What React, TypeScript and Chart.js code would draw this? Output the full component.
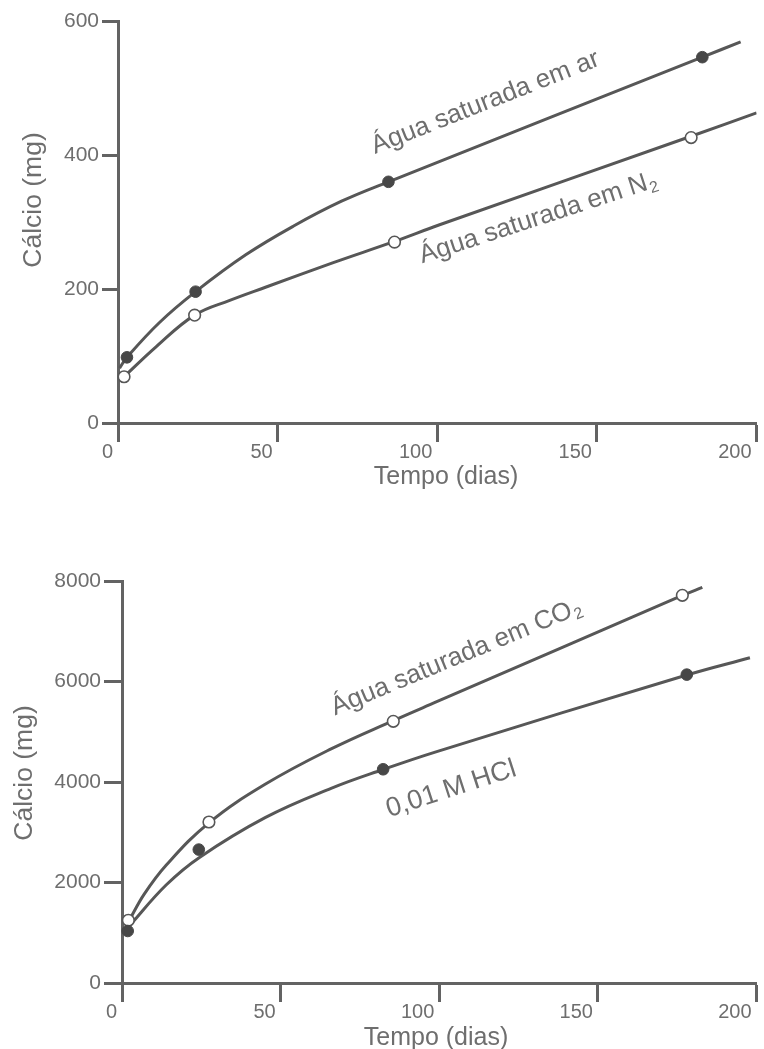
import React, { useEffect, useRef } from 'react';
import { Chart, registerables } from 'chart.js';

Chart.register(...registerables);

const FONT = '"Liberation Sans", Arial, Helvetica, sans-serif';
const INK = '#6e6e6e';
const AXIS = '#636363';
const CURVE = '#575757';
const DOT = '#474747';

// Shared time axis (days)
const dayTicks = [0, 50, 100, 150, 200];

// Upper panel: calcium (mg) dissolved in air- and N2-saturated water
const upperCalciumTicks = [0, 200, 400, 600];
const airDays = [2.8, 24.3, 84.7, 183];
const airCalcium = [98, 196, 360, 546];
const nitrogenDays = [1.9, 24, 86.6, 179.5];
const nitrogenCalcium = [69, 161, 270, 426];
const airCurveDays = [0.5, 2.8, 13, 24.3, 40, 55, 70, 84.7, 183, 195];
const airCurveCalcium = [82, 98, 150, 196, 251, 294, 331, 360, 546, 569];
const nitrogenCurveDays = [0.8, 12, 24, 35, 46.4, 67.2, 86.6, 100.5, 179.5, 200];
const nitrogenCurveCalcium = [64, 114, 161, 183, 203, 239, 271, 295.5, 428, 463];

// Lower panel: calcium (mg) dissolved in CO2-saturated water and 0.01 M HCl
const lowerCalciumTicks = [0, 2000, 4000, 6000, 8000];
const co2Days = [2, 27.4, 85.5, 176.6];
const co2Calcium = [1248, 3204, 5208, 7715];
const hclDays = [1.8, 24.2, 82.3, 178];
const hclCalcium = [1035, 2655, 4253, 6137];
const co2CurveDays = [2.3, 7, 13.9, 27.4, 45.1, 65.9, 85.5, 99.2, 176.6, 182.9];
const co2CurveCalcium = [1248, 1769, 2344, 3188, 3954, 4659, 5222, 5598, 7712, 7873];
const hclCurveDays = [2.5, 13.9, 24.3, 45.1, 65.9, 82.3, 99.2, 178, 197.9];
const hclCurveCalcium = [1149, 1950, 2494, 3290, 3873, 4249, 4605, 6129, 6472];

type Note = { text: string; sub?: string; day: number; mg: number; angle: number; size: number };
type Caption = { text: string; x: number; y: number; angle: number; size: number };

const pairs = (xs: number[], ys: number[]) => xs.map((x, i) => ({ x, y: ys[i] }));

function drawLabel(
  ctx: CanvasRenderingContext2D,
  x: number,
  y: number,
  angle: number,
  text: string,
  size: number,
  sub?: string
) {
  ctx.save();
  ctx.translate(x, y);
  ctx.rotate((angle * Math.PI) / 180);
  const mainFont = `${size}px ${FONT}`;
  const subFont = `${Math.round(size * 0.62)}px ${FONT}`;
  ctx.font = mainFont;
  const w1 = ctx.measureText(text).width;
  let w2 = 0;
  if (sub) {
    ctx.font = subFont;
    w2 = ctx.measureText(sub).width + 1;
  }
  const start = -(w1 + w2) / 2;
  const base = size * 0.36;
  ctx.fillStyle = INK;
  ctx.textAlign = 'left';
  ctx.textBaseline = 'alphabetic';
  ctx.font = mainFont;
  ctx.fillText(text, start, base);
  if (sub) {
    ctx.font = subFont;
    ctx.fillText(sub, start + w1 + 1, base + size * 0.16);
  }
  ctx.restore();
}

type PanelProps = {
  top: number;
  height: number;
  areaTop: number;
  areaLeft: number;
  areaBottom: number;
  rightPad: number;
  yMax: number;
  yTicks: number[];
  yTickLength: number;
  filled: { x: number; y: number }[];
  open: { x: number; y: number }[];
  curves: { x: number; y: number }[][];
  notes: Note[];
  captions: Caption[];
};

function Panel(p: PanelProps) {
  const ref = useRef<HTMLCanvasElement | null>(null);

  useEffect(() => {
    const canvas = ref.current;
    if (!canvas) return;

    const labels = {
      id: 'curveLabels',
      afterDatasetsDraw(chart: any) {
        const { ctx } = chart;
        const xs = chart.scales.x;
        const ys = chart.scales.y;
        for (const n of p.notes) {
          drawLabel(ctx, xs.getPixelForValue(n.day), ys.getPixelForValue(n.mg), n.angle, n.text, n.size, n.sub);
        }
        for (const c of p.captions) {
          drawLabel(ctx, c.x, c.y, c.angle, c.text, c.size);
        }
      },
    };

    const chart = new Chart(canvas, {
      type: 'line',
      data: {
        datasets: [
          {
            data: p.filled,
            showLine: false,
            pointRadius: 5.8,
            pointBackgroundColor: DOT,
            pointBorderColor: DOT,
            pointBorderWidth: 1,
            clip: false,
          },
          {
            data: p.open,
            showLine: false,
            pointRadius: 5.8,
            pointBackgroundColor: '#ffffff',
            pointBorderColor: CURVE,
            pointBorderWidth: 1.6,
            clip: false,
          },
          ...p.curves.map((c) => ({
            data: c,
            borderColor: CURVE,
            borderWidth: 3,
            pointRadius: 0,
            tension: 0.4,
            fill: false,
          })),
        ],
      },
      options: {
        animation: false,
        responsive: false,
        maintainAspectRatio: false,
        devicePixelRatio: 1,
        events: [],
        layout: { padding: { top: p.areaTop, right: p.rightPad, left: 0, bottom: 0 } },
        plugins: { legend: { display: false }, tooltip: { enabled: false } },
        scales: {
          x: {
            type: 'linear',
            position: 'bottom',
            min: 0,
            max: 200,
            afterBuildTicks: (s: any) => {
              s.ticks = dayTicks.map((value) => ({ value }));
            },
            afterFit: (s: any) => {
              s.height = p.height - p.areaBottom;
            },
            ticks: {
              align: 'end',
              labelOffset: -5,
              padding: -2,
              maxRotation: 0,
              autoSkip: false,
              color: INK,
              font: { family: FONT, size: 20 },
              callback: (v: any) => String(v),
            },
            grid: {
              drawOnChartArea: false,
              drawTicks: true,
              tickLength: 19,
              tickWidth: 3,
              tickColor: AXIS,
            },
            border: { display: true, width: 3, color: AXIS },
          },
          y: {
            type: 'linear',
            min: 0,
            max: p.yMax,
            afterBuildTicks: (s: any) => {
              s.ticks = p.yTicks.map((value) => ({ value }));
            },
            afterFit: (s: any) => {
              s.width = p.areaLeft;
            },
            ticks: {
              padding: 3,
              autoSkip: false,
              color: INK,
              font: { family: FONT, size: 21 },
              callback: (v: any) => String(v),
            },
            grid: {
              drawOnChartArea: false,
              drawTicks: true,
              tickLength: p.yTickLength,
              tickWidth: 3,
              tickColor: AXIS,
            },
            border: { display: true, width: 3, color: AXIS },
          },
        },
      },
      plugins: [labels],
    } as any);

    return () => chart.destroy();
  }, []);

  return (
    <canvas
      ref={ref}
      width={764}
      height={p.height}
      style={{ position: 'absolute', left: 0, top: p.top, width: 764, height: p.height }}
    />
  );
}

export default function App() {
  return (
    <div style={{ position: 'absolute', left: 0, top: 0, width: 764, height: 1049, background: '#ffffff' }}>
      <Panel
        top={0}
        height={520}
        areaTop={21}
        areaLeft={118}
        areaBottom={423}
        rightPad={5}
        yMax={600}
        yTicks={upperCalciumTicks}
        yTickLength={16}
        filled={pairs(airDays, airCalcium)}
        open={pairs(nitrogenDays, nitrogenCalcium)}
        curves={[pairs(airCurveDays, airCurveCalcium), pairs(nitrogenCurveDays, nitrogenCurveCalcium)]}
        notes={[
          { text: 'Água saturada em ar', day: 114.8, mg: 481, angle: -21.5, size: 26 },
          { text: 'Água saturada em N', sub: '2', day: 131.4, mg: 309, angle: -18, size: 26 },
        ]}
        captions={[
          { text: 'Cálcio (mg)', x: 31, y: 200, angle: -90, size: 26.5 },
          { text: 'Tempo (dias)', x: 446, y: 475, angle: 0, size: 25 },
        ]}
      />
      <Panel
        top={520}
        height={529}
        areaTop={61}
        areaLeft={122}
        areaBottom={463}
        rightPad={1}
        yMax={8000}
        yTicks={lowerCalciumTicks}
        yTickLength={18}
        filled={pairs(hclDays, hclCalcium)}
        open={pairs(co2Days, co2Calcium)}
        curves={[pairs(co2CurveDays, co2CurveCalcium), pairs(hclCurveDays, hclCurveCalcium)]}
        notes={[
          { text: 'Água saturada em CO', sub: '2', day: 105.1, mg: 6520, angle: -22.5, size: 26 },
          { text: '0,01 M HCl', day: 103.5, mg: 3900, angle: -18, size: 27 },
        ]}
        captions={[
          { text: 'Cálcio (mg)', x: 22, y: 253, angle: -90, size: 26.5 },
          { text: 'Tempo (dias)', x: 436, y: 516, angle: 0, size: 25 },
        ]}
      />
    </div>
  );
}
